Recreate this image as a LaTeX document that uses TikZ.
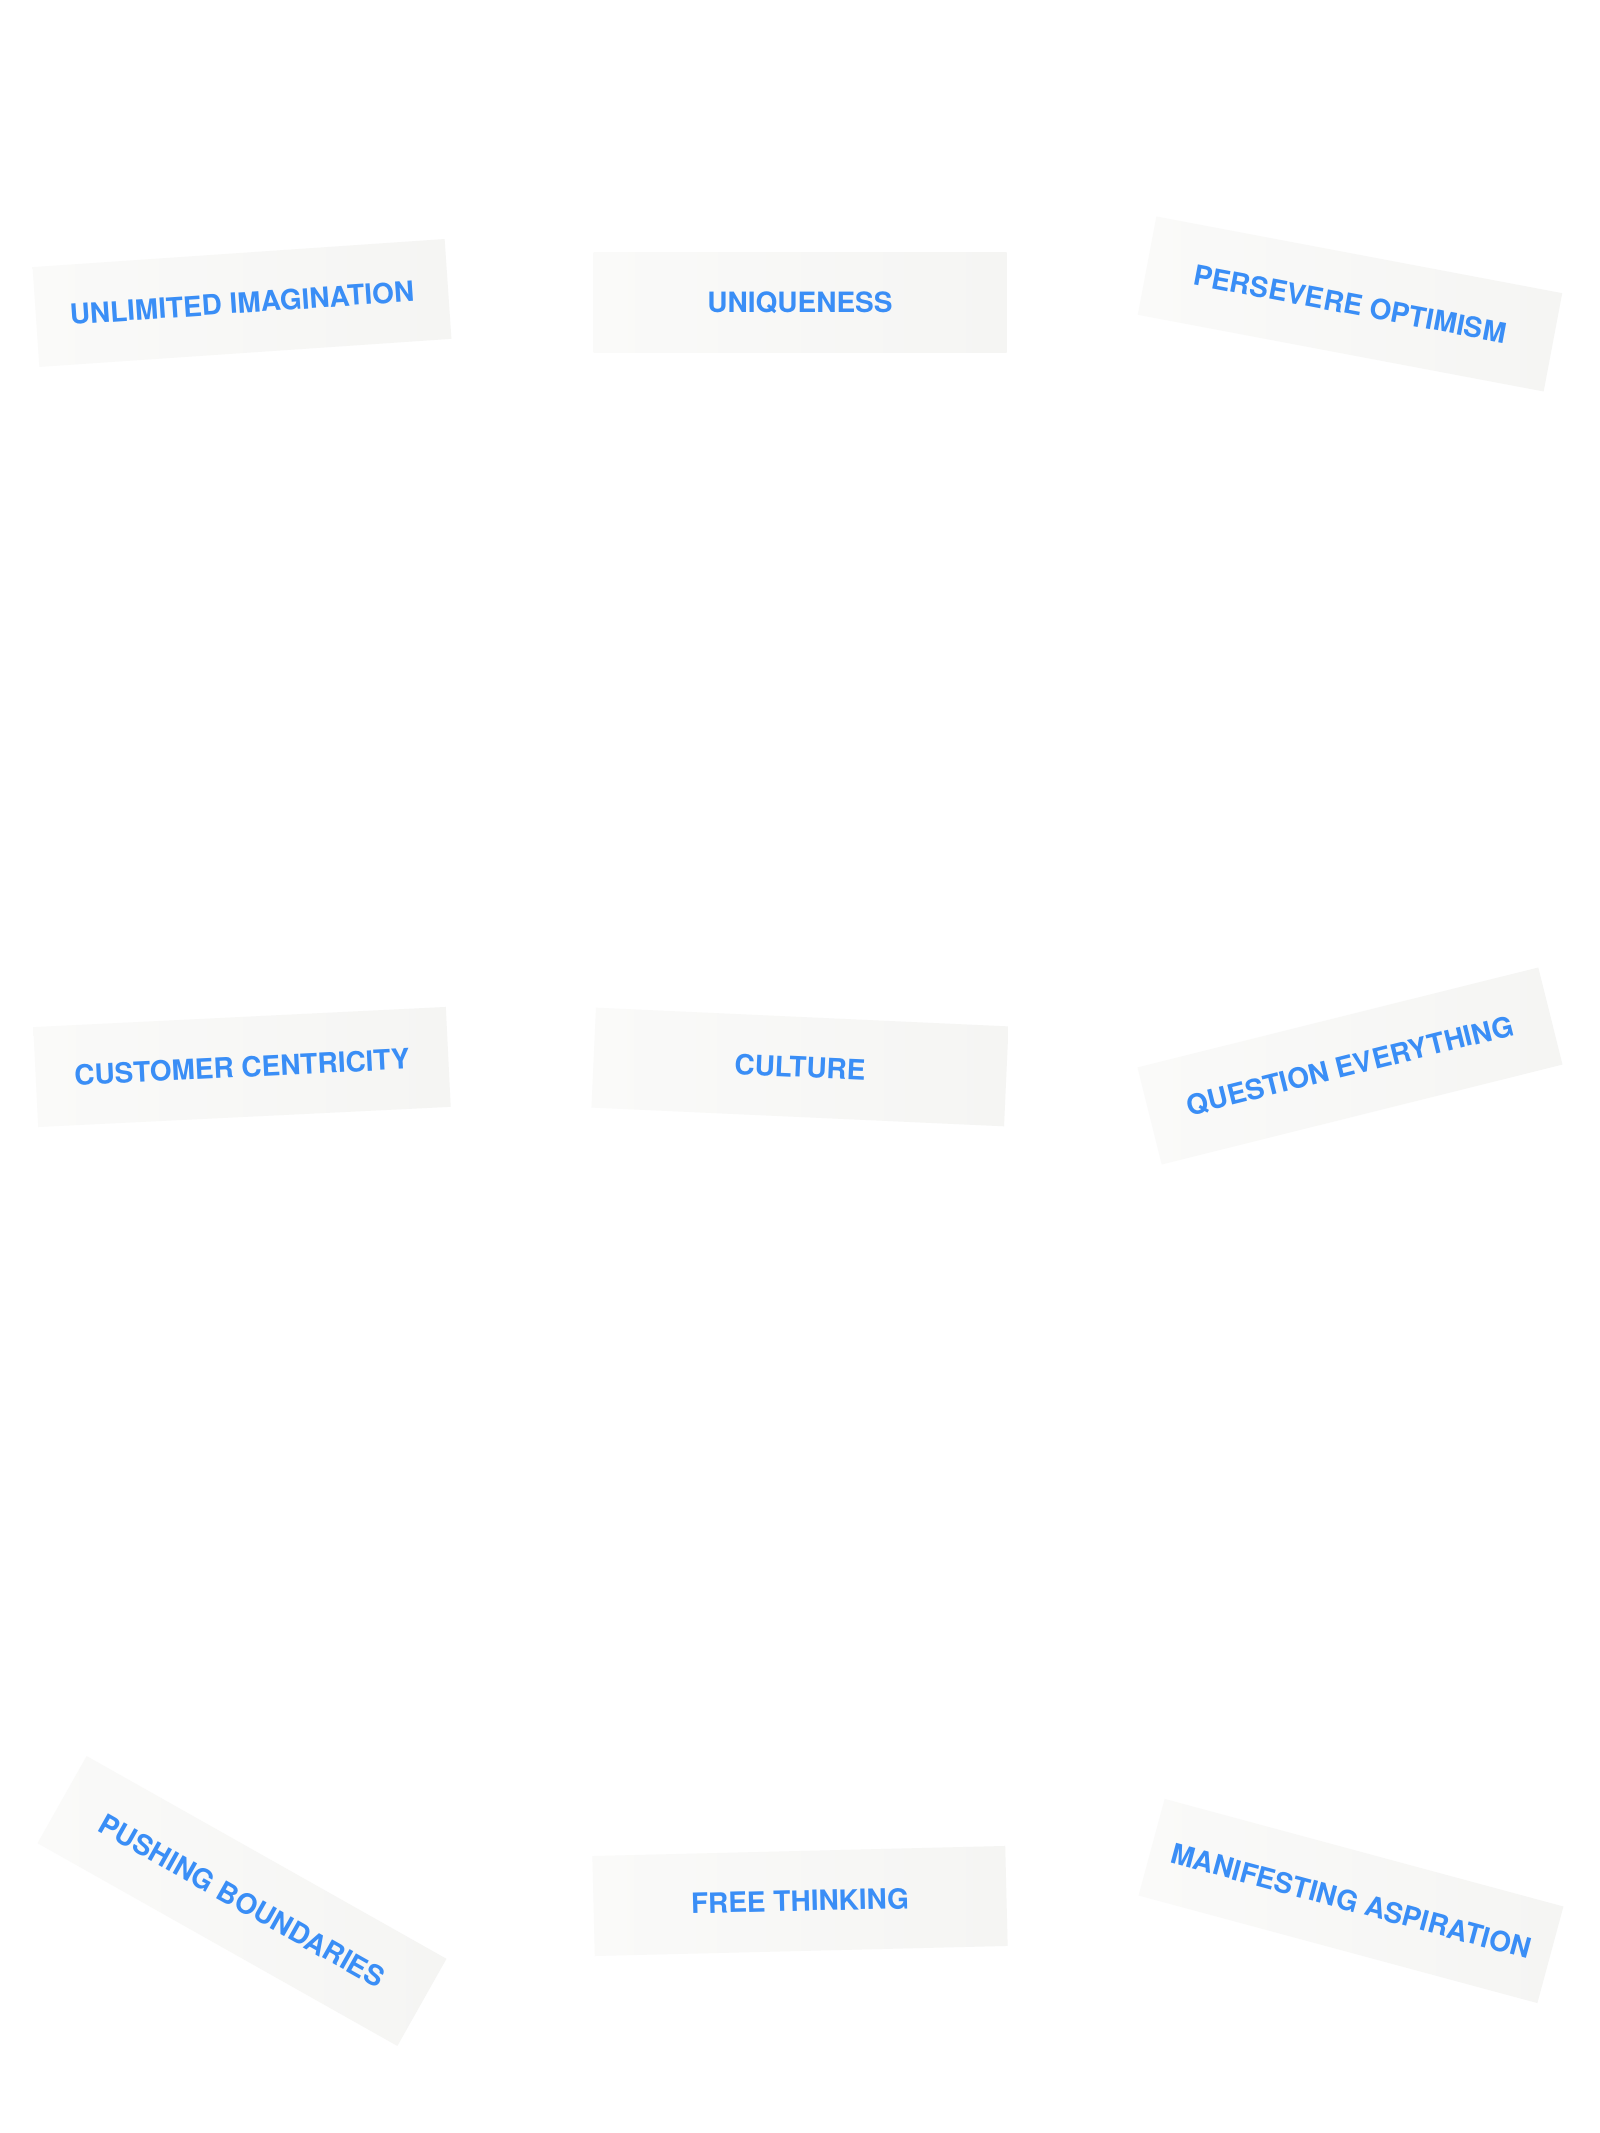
\documentclass[tikz,border=0pt]{standalone}
\usepackage{fontspec}
\setmainfont{TeX Gyre Heros}
\definecolor{labelblue}{HTML}{3A8EF6}
\definecolor{tagleft}{HTML}{FAFAF9}
\definecolor{tagright}{HTML}{F5F5F3}
\begin{document}
\begin{tikzpicture}[x=1pt, y=1pt,
	tag/.style={rectangle, minimum width=413pt, minimum height=100pt, inner sep=0pt, left color=tagleft, right color=tagright, text=labelblue, font=\bfseries\fontsize{28}{34}\selectfont}]
		\useasboundingbox (0,0) rectangle (1600,2133);
		\fill [white] (0,0) rectangle (1600,2133);
		\node[tag, rotate=3.9] (UI) at (242,1830) {UNLIMITED IMAGINATION};
		\node[tag] (UQ) at (800,1830) {UNIQUENESS};
		\node[tag, rotate=-10.7] (PO) at (1350,1829) {PERSEVERE OPTIMISM};
		\node[tag, rotate=2.8] (CC) at (242,1066) {CUSTOMER CENTRICITY};
		\node[tag, rotate=-2.6] (CU) at (800,1066) {CULTURE};
		\node[tag, rotate=14] (QE) at (1350,1067) {QUESTION EVERYTHING};
		\node[tag, rotate=-29.4] (PB) at (242,232) {PUSHING BOUNDARIES};
		\node[tag, rotate=1.4] (FT) at (800,232) {FREE THINKING};
		\node[tag, rotate=-15.1] (MA) at (1351,232) {MANIFESTING ASPIRATION};
	\end{tikzpicture}
\end{document}
